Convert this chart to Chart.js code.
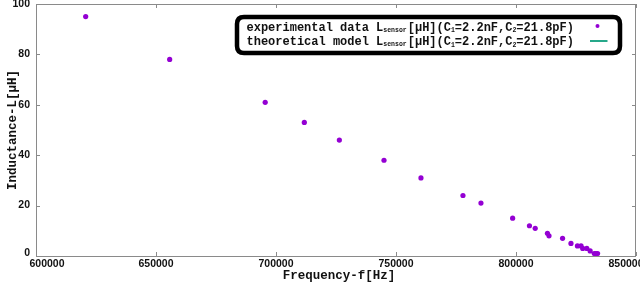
<!DOCTYPE html>
<html>
<head>
<meta charset="utf-8">
<script src="https://cdn.jsdelivr.net/npm/chart.js@4"></script>
<style>
html,body{margin:0;padding:0;background:#fff;}
canvas{display:block;}
</style>
</head>
<body>
<canvas id="c" width="640" height="284"></canvas>
<script>
// ---- data ----
const freqHz = [620700, 655700, 695500, 711800, 726400, 745000, 760400, 777900, 785400, 798600,
                805600, 808000, 813100, 813750, 819400, 822900, 825600, 827100, 827800, 829500,
                830900, 832600, 833300, 834000];
const inductanceUH = [95, 78, 61, 53, 46, 38, 31, 24, 21, 15,
                      12, 11, 9, 8, 7, 5, 4, 4, 3, 3,
                      2, 1, 1, 1];
const theoryFreq = [];
const theoryL = [];
const xTicks = [600000, 650000, 700000, 750000, 800000, 850000];
const yTicks = [0, 20, 40, 60, 80, 100];
const xTitle = "Frequency-f[Hz]";
const yTitle = "Inductance-L[\u03bcH]";
const legendRows = [
  {pre: "experimental data L", sub: "sensor", post: ["[\u03bcH](C", "1", "=2.2nF,C", "2", "=21.8pF)"], kind: "point"},
  {pre: "theoretical model L", sub: "sensor", post: ["[\u03bcH](C", "1", "=2.2nF,C", "2", "=21.8pF)"], kind: "line"}
];

const PURPLE = "#9400d3";
const GREEN = "#26a88a";
const GRAY = "#8a8a8a";

const expData = freqHz.map((f, i) => ({x: f, y: inductanceUH[i]}));
const thData = theoryFreq.map((f, i) => ({x: f, y: theoryL[i]}));

const decor = {
  id: "decor",
  afterDraw(chart) {
    const ctx = chart.ctx;
    const a = chart.chartArea;
    const xs = chart.scales.x, ys = chart.scales.y;
    ctx.save();
    // frame
    ctx.strokeStyle = GRAY;
    ctx.lineWidth = 1;
    ctx.strokeRect(Math.round(a.left) + 0.5, Math.round(a.top) + 0.5,
                   Math.round(a.right - a.left) - 1, Math.round(a.bottom - a.top));
    // ticks inward
    ctx.beginPath();
    xTicks.forEach(v => {
      const px = Math.round(xs.getPixelForValue(v)) + 0.5;
      ctx.moveTo(px, a.bottom); ctx.lineTo(px, a.bottom - 4);
      ctx.moveTo(px, a.top); ctx.lineTo(px, a.top + 4);
    });
    yTicks.forEach(v => {
      const py = Math.round(ys.getPixelForValue(v)) + 0.5;
      ctx.moveTo(a.left, py); ctx.lineTo(a.left + 4, py);
      ctx.moveTo(a.right, py); ctx.lineTo(a.right - 4, py);
    });
    ctx.stroke();
    // tick labels
    ctx.fillStyle = "#111";
    ctx.font = "bold 10.5px 'Liberation Sans'";
    ctx.textBaseline = "middle";
    ctx.textAlign = "center";
    xTicks.forEach((v, i) => {
      let px = xs.getPixelForValue(v);
      if (i === 0) px += 11;
      if (i === xTicks.length - 1) px -= 10;
      ctx.fillText(String(v), px, a.bottom + 8);
    });
    ctx.textAlign = "right";
    yTicks.forEach(v => {
      const py = ys.getPixelForValue(v);
      ctx.fillText(String(v), a.left - 6, py - (v === 0 ? 3 : 0));
    });
    // axis titles
    ctx.font = "bold 12.5px 'Liberation Mono'";
    ctx.textAlign = "center";
    ctx.fillText(xTitle, (a.left + a.right) / 2 + 3, 276);
    ctx.save();
    ctx.translate(13, (a.top + a.bottom) / 2);
    ctx.rotate(-Math.PI / 2);
    ctx.fillText(yTitle, 0, 0);
    ctx.restore();
    // legend box
    const bx = 237, by = 17, bw = a.right - 16 - bx, bh = 36, r = 7;
    ctx.fillStyle = "#fff";
    ctx.strokeStyle = "#000";
    ctx.lineWidth = 4.5;
    ctx.beginPath();
    ctx.moveTo(bx + r, by);
    ctx.lineTo(bx + bw - r, by);
    ctx.quadraticCurveTo(bx + bw, by, bx + bw, by + r);
    ctx.lineTo(bx + bw, by + bh - r);
    ctx.quadraticCurveTo(bx + bw, by + bh, bx + bw - r, by + bh);
    ctx.lineTo(bx + r, by + bh);
    ctx.quadraticCurveTo(bx, by + bh, bx, by + bh - r);
    ctx.lineTo(bx, by + r);
    ctx.quadraticCurveTo(bx, by, bx + r, by);
    ctx.closePath();
    ctx.fill();
    ctx.stroke();
    // legend text
    ctx.fillStyle = "#111";
    ctx.textAlign = "left";
    ctx.textBaseline = "alphabetic";
    const big = "bold 12px 'Liberation Mono'";
    const small = "bold 6.5px 'Liberation Mono'";
    legendRows.forEach((row, k) => {
      const base = 30.5 + k * 14.5;
      let x = 246.5;
      ctx.font = big; ctx.fillText(row.pre, x, base); x += ctx.measureText(row.pre).width;
      ctx.font = small; ctx.fillText(row.sub, x, base + 1); x += ctx.measureText(row.sub).width + 1;
      row.post.forEach((s, j) => {
        if (j % 2 === 0) { ctx.font = big; ctx.fillText(s, x, base); x += ctx.measureText(s).width; }
        else { ctx.font = small; ctx.fillText(s, x, base + 1.5); x += ctx.measureText(s).width; }
      });
      const my = base - 4.5;
      if (row.kind === "point") {
        ctx.fillStyle = PURPLE;
        ctx.beginPath(); ctx.arc(597.5, my, 2, 0, Math.PI * 2); ctx.fill();
        ctx.fillStyle = "#111";
      } else {
        ctx.strokeStyle = GREEN; ctx.lineWidth = 2;
        ctx.beginPath(); ctx.moveTo(590, my + 0.5); ctx.lineTo(607.5, my + 0.5); ctx.stroke();
      }
    });
    ctx.restore();
  }
};

new Chart(document.getElementById("c"), {
  type: "scatter",
  data: {
    datasets: [
      {label: "experimental data", data: expData, backgroundColor: PURPLE, borderColor: PURPLE,
       pointRadius: 2.6, pointBorderWidth: 0, pointHoverRadius: 2.6},
      {label: "theoretical model", type: "line", data: thData, borderColor: GREEN, borderWidth: 2,
       pointRadius: 0, fill: false}
    ]
  },
  options: {
    responsive: false,
    animation: false,
    devicePixelRatio: 1,
    layout: {padding: {left: 36, top: 4, right: 4, bottom: 28}},
    plugins: {legend: {display: false}, tooltip: {enabled: false}},
    scales: {
      x: {type: "linear", min: 600000, max: 850000, display: false,
          ticks: {stepSize: 50000}},
      y: {type: "linear", min: 0, max: 100, display: false,
          ticks: {stepSize: 20}}
    }
  },
  plugins: [decor]
});
</script>
</body>
</html>
